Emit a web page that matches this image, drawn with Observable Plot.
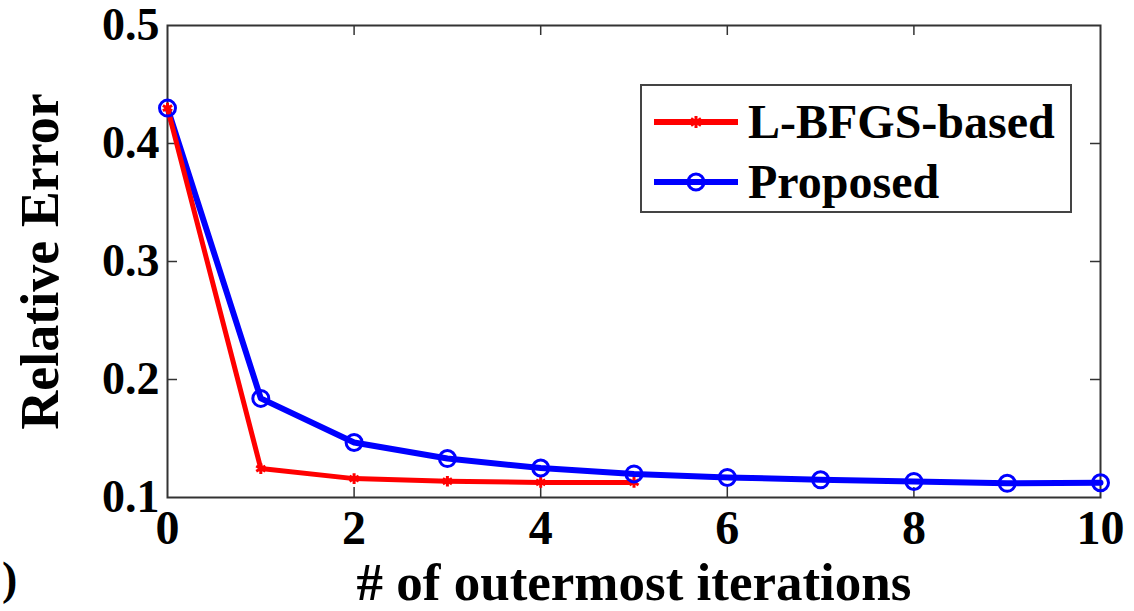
<!DOCTYPE html>
<html><head><meta charset="utf-8">
<script src="https://cdn.jsdelivr.net/npm/d3@7"></script>
<script src="https://cdn.jsdelivr.net/npm/@observablehq/plot@0.6"></script>
<style>
body{margin:0;background:#fff;}
#wrap{position:relative;width:1134px;height:611px;font-family:"Liberation Serif","Times New Roman",serif;}
#legend{position:absolute;left:640px;top:84px;width:432px;height:129px;border:2px solid #444;background:#fff;box-sizing:border-box;}
.row{position:absolute;left:12px;display:flex;align-items:center;font-weight:bold;font-size:48px;color:#000;line-height:1;}
.stray{position:absolute;left:2px;top:556px;font-weight:bold;font-size:46px;line-height:1;}
</style></head><body>
<div id="wrap"></div>
<script>
const iters = [0,1,2,3,4,5,6,7,8,9,10];
const lbfgsIters = [0,1,2,3,4,5];
const lbfgs = [0.430,0.1245,0.116,0.1138,0.1128,0.1128];
const proposed = [0.430,0.184,0.1466,0.133,0.125,0.120,0.117,0.115,0.1136,0.112,0.1125];
const xTicks = [0,2,4,6,8,10];
const yTicks = [0.1,0.2,0.3,0.4,0.5];
const seriesNames = ["L-BFGS-based","Proposed"];
const colors = ["#ff0000","#0000ff"];

const redData = lbfgsIters.map((x,i)=>({x, y:lbfgs[i]}));
const blueData = iters.map((x,i)=>({x, y:proposed[i]}));

const tx = 10*10/933, ty = 0.4*10/472;
const FONT = '"Liberation Serif","Times New Roman",serif';
const chart = Plot.plot({
  width:1134, height:611,
  marginLeft:167, marginRight:34, marginTop:25, marginBottom:114,
  style:{fontFamily:FONT, fontWeight:"bold", fontSize:"48px", color:"#000", background:"#fff"},
  x:{domain:[0,10], ticks:xTicks, tickFormat:d=>String(d), label:null},
  y:{domain:[0.1,0.5], ticks:yTicks, tickFormat:d=>d.toFixed(1), label:null},
  marks:[
    Plot.axisX({ticks:xTicks, tickFormat:d=>String(d), tickSize:0, tickPadding:12, fontSize:48, label:null}),
    Plot.axisY({ticks:yTicks, tickFormat:d=>d.toFixed(1), tickSize:0, tickPadding:8, fontSize:46, label:null}),
    Plot.text(["# of outermost iterations"], {x:5, y:0.1, text:d=>d, dy:86, fontSize:53, fontWeight:"bold", fill:"#000"}),
    Plot.text(["Relative Error"], {x:0, y:0.3, text:d=>d, dx:-127, rotate:-90, fontSize:54, fontWeight:"bold", fill:"#000"}),
    Plot.ruleX(xTicks.slice(1,-1), {y1:0.1, y2:0.1+ty, stroke:"#333", strokeWidth:1.5}),
    Plot.ruleX(xTicks.slice(1,-1), {y1:0.5, y2:0.5-ty, stroke:"#333", strokeWidth:1.5}),
    Plot.ruleY(yTicks.slice(1,-1), {x1:0, x2:tx, stroke:"#333", strokeWidth:1.5}),
    Plot.ruleY(yTicks.slice(1,-1), {x1:10, x2:10-tx, stroke:"#333", strokeWidth:1.5}),
    Plot.frame({stroke:"#333", strokeWidth:2}),
    Plot.line(blueData, {x:"x", y:"y", stroke:colors[1], strokeWidth:6}),
    Plot.line(redData, {x:"x", y:"y", stroke:colors[0], strokeWidth:5}),
    Plot.dot(redData, {x:"x", y:"y", symbol:"asterisk", r:5, stroke:colors[0], strokeWidth:3}),
    Plot.dot(blueData, {x:"x", y:"y", r:8, stroke:colors[1], fill:"none", strokeWidth:3})
  ]
});
d3.select(chart).selectAll("text").attr("fill","#000");
const wrap = document.getElementById("wrap");
wrap.appendChild(chart);

const leg = document.createElement("div");
leg.id="legend";
const markers = [
  `<path d="M42,-6V6M37,-3.5L47,3.5M37,3.5L47,-3.5" stroke="${colors[0]}" stroke-width="3" fill="none"/>`,
  `<circle cx="42" cy="0" r="8" stroke="${colors[1]}" stroke-width="3" fill="none"/>`
];
seriesNames.forEach((n,i)=>{
  const r = document.createElement("div");
  r.className="row";
  r.style.top = (i===0? 12 : 72) + "px";
  r.innerHTML = `<svg width="90" height="40" viewBox="0 -20 90 40" style="margin-right:4px"><line x1="0" x2="84" y1="0" y2="0" stroke="${colors[i]}" stroke-width="6"/>${markers[i]}</svg><span>${n}</span>`;
  leg.appendChild(r);
});
wrap.appendChild(leg);
const s = document.createElement("div"); s.className="stray"; s.textContent=")"; wrap.appendChild(s);
</script>
</body></html>
